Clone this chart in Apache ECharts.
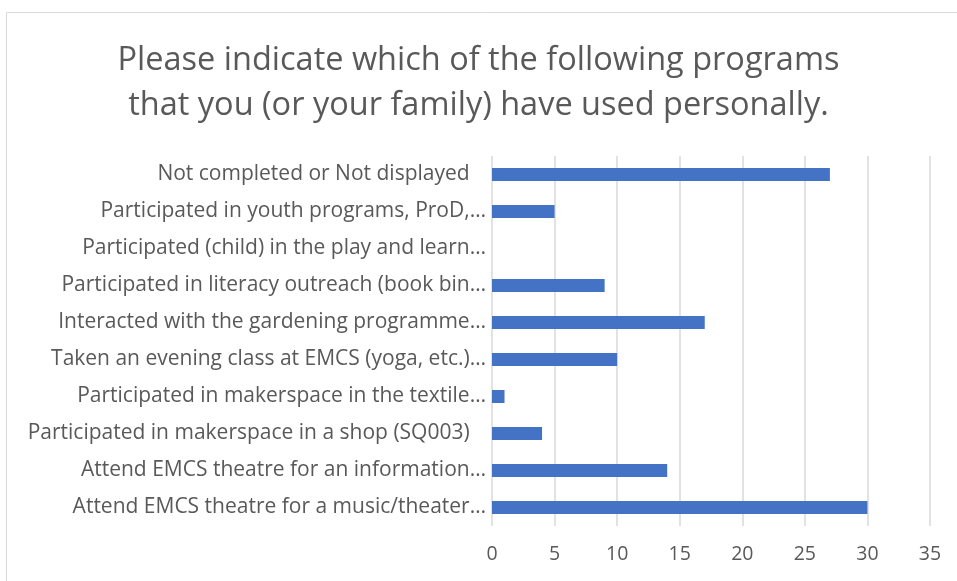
<!DOCTYPE html>
<html>
<head>
<meta charset="utf-8">
<script src="https://cdn.jsdelivr.net/npm/echarts@6/dist/echarts.min.js"></script>
<style>
  html, body { margin: 0; padding: 0; background: #fff; }
  #chart { width: 957px; height: 581px; }
</style>
</head>
<body>
<div id="chart"></div>
<script>
// bottom to top, as the category axis draws them
const programs = [
    'Attend EMCS theatre for a music/theater…',
    'Attend EMCS theatre for an information…',
    'Participated in makerspace in a shop (SQ003)\u00a0\u00a0\u00a0',
    'Participated in makerspace in the textile…',
    'Taken an evening class at EMCS (yoga, etc.)…',
    'Interacted with the gardening programme…',
    'Participated in literacy outreach (book bin…',
    'Participated (child) in the play and learn…',
    'Participated in youth programs, ProD,…',
    'Not completed or Not displayed\u00a0\u00a0\u00a0'
];
const counts = [30, 14, 4, 1, 10, 17, 9, 0, 5, 27];
const ticks = [0, 5, 10, 15, 20, 25, 30, 35];

const chart = echarts.init(document.getElementById('chart'));
const font = '"Open Sans", "Liberation Sans", sans-serif';

chart.setOption({
    backgroundColor: '#fff',
    animation: false,
    textStyle: { fontFamily: font },
    title: {
        text: 'Please indicate which of the following programs\nthat you (or your family) have used personally.',
        left: 'center',
        top: 33,
        textStyle: {
            color: '#595959',
            fontSize: 32.5,
            fontWeight: 'normal',
            lineHeight: 45,
            fontFamily: font
        }
    },
    graphic: [{
        type: 'rect',
        shape: { x: 6.5, y: 12.5, width: 1000, height: 700 },
        style: { fill: 'none', stroke: '#d9d9d9', lineWidth: 1 },
        silent: true
    }],
    grid: { left: 492, right: 27, top: 156, bottom: 55 },
    xAxis: {
        type: 'value',
        min: ticks[0],
        max: ticks[ticks.length - 1],
        interval: 5,
        axisLine: { show: false },
        axisTick: { show: false },
        axisLabel: { color: '#595959', fontSize: 19.5, margin: 18, fontFamily: font },
        splitLine: { lineStyle: { color: '#d9d9d9', width: 1.5 } }
    },
    yAxis: {
        type: 'category',
        data: programs,
        axisLine: { show: false },
        axisTick: { show: false },
        axisLabel: { color: '#595959', fontSize: 21, margin: 6, padding: [4, 0, 0, 0], fontFamily: font }
    },
    series: [{
        type: 'bar',
        data: counts,
        barWidth: 13,
        itemStyle: { color: '#4472c4' }
    }]
});
</script>
</body>
</html>
